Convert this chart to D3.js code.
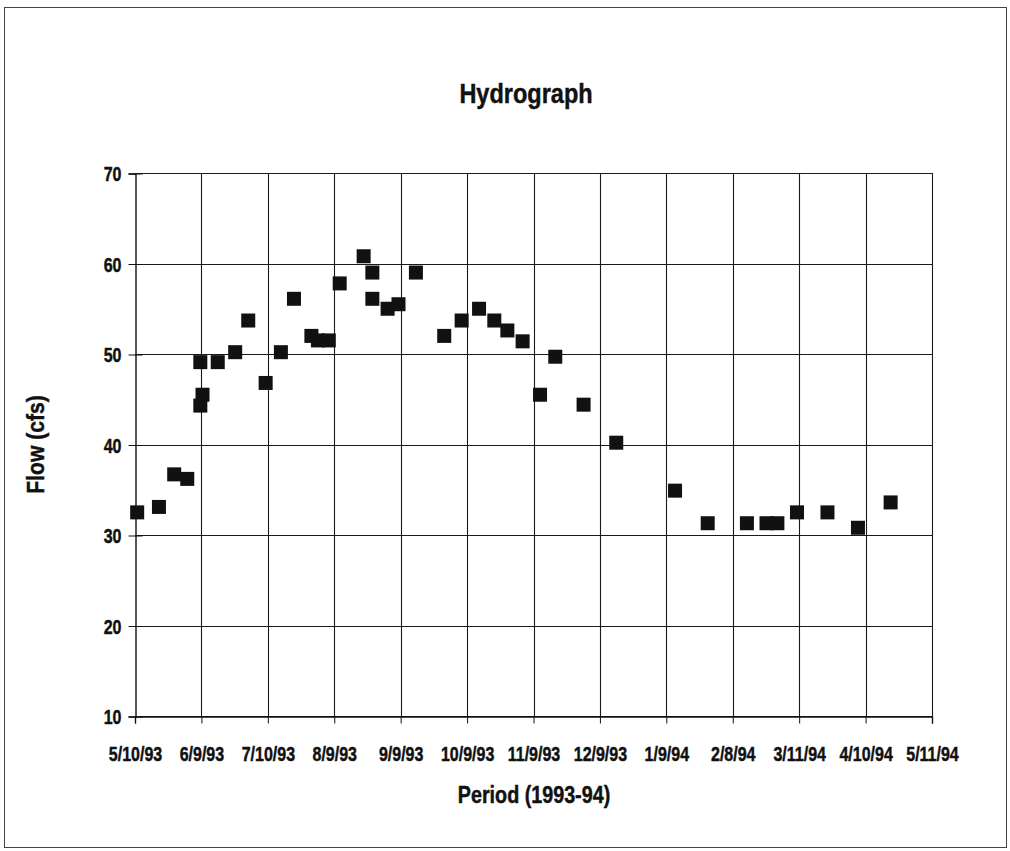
<!DOCTYPE html>
<html>
<head>
<meta charset="utf-8">
<script src="https://cdn.jsdelivr.net/npm/d3@7/dist/d3.min.js"></script>
<style>
  html, body { margin: 0; padding: 0; background: #fff; }
  svg { display: block; }
  text { font-family: "Liberation Sans", Arial, sans-serif; font-weight: bold; fill: #111; stroke: #111; stroke-width: 0.45px; }
</style>
</head>
<body>
<svg id="chart" width="1010" height="851"></svg>
<script>
// Axis tick labels (x axis ticks fall every 30.5 days from the first label)
const xTickLabels = ["5/10/93", "6/9/93", "7/10/93", "8/9/93", "9/9/93", "10/9/93",
  "11/9/93", "12/9/93", "1/9/94", "2/8/94", "3/11/94", "4/10/94", "5/11/94"];
const yTickValues = [10, 20, 30, 40, 50, 60, 70];

// Measured flow, dates of sampling
const sampleDates = [
  "1993-05-11", "1993-05-21", "1993-05-28", "1993-06-03", "1993-06-09", "1993-06-17",
  "1993-06-10", "1993-06-09", "1993-06-25", "1993-07-01", "1993-07-09", "1993-07-16",
  "1993-07-22", "1993-07-30", "1993-08-02", "1993-08-07", "1993-08-12", "1993-08-23",
  "1993-08-27", "1993-08-27", "1993-09-03", "1993-09-08", "1993-09-16", "1993-09-29",
  "1993-10-07", "1993-10-15", "1993-10-22", "1993-10-28", "1993-11-04", "1993-11-12",
  "1993-11-19", "1993-12-02", "1993-12-17", "1994-01-13", "1994-01-28", "1994-02-15",
  "1994-02-24", "1994-03-01", "1994-03-10", "1994-03-24", "1994-04-07", "1994-04-22"
];
// Flow in cfs for each sample date
const flowCfs = [
  32.5, 33.1, 36.7, 36.2, 49.1, 49.1,
  45.5, 44.3, 50.2, 53.7, 46.8, 50.2,
  56.1, 52.0, 51.5, 51.5, 57.8, 60.8,
  59.0, 56.1, 55.0, 55.5, 59.0, 52.0,
  53.7, 55.0, 53.7, 52.6, 51.4, 45.5,
  49.7, 44.4, 40.2, 34.9, 31.3, 31.3,
  31.3, 31.3, 32.5, 32.5, 30.8, 33.6
];

const svg = d3.select("#chart");
const plot = { left: 135, right: 932, top: 173, bottom: 716 };
const DAY = 864e5;
const parse = d3.utcParse("%Y-%m-%d");
const xStart = Date.UTC(1993, 4, 10);

const x = d3.scaleUtc()
  .domain([new Date(xStart), new Date(xStart + 366 * DAY)])
  .range([plot.left, plot.right]);
const y = d3.scaleLinear().domain([10, 70]).range([plot.bottom, plot.top]);

const xTickDates = xTickLabels.map((_, i) => new Date(xStart + i * 30.5 * DAY));

// condensed lettering: squeeze glyphs horizontally
const NARROW = 0.8;

// outer frame
svg.append("rect")
  .attr("x", 4.5).attr("y", 7.5).attr("width", 1002).attr("height", 840)
  .attr("fill", "none").attr("stroke", "#444").attr("stroke-width", 1);

// title
svg.append("text")
  .attr("transform", "translate(526,103) scale(0.84,1)")
  .attr("text-anchor", "middle")
  .style("font-size", "28px")
  .text("Hydrograph");

// horizontal grid
svg.append("g")
  .selectAll("line")
  .data(yTickValues)
  .join("line")
  .attr("x1", plot.left).attr("x2", plot.right)
  .attr("y1", d => Math.round(y(d)) + 0.5).attr("y2", d => Math.round(y(d)) + 0.5)
  .attr("stroke", "#1a1a1a").attr("stroke-width", 1.2);

// vertical grid
svg.append("g")
  .selectAll("line")
  .data(xTickDates.slice(1))
  .join("line")
  .attr("x1", d => Math.round(x(d)) + 0.5).attr("x2", d => Math.round(x(d)) + 0.5)
  .attr("y1", plot.top).attr("y2", plot.bottom)
  .attr("stroke", "#1a1a1a").attr("stroke-width", 1.1);

// y axis
const yAxis = d3.axisLeft(y).tickValues(yTickValues).tickSize(7).tickPadding(8)
  .tickFormat(d3.format("d"));
svg.append("g")
  .attr("transform", `translate(${plot.left + 0.5},0.5)`)
  .call(yAxis)
  .call(g => g.select(".domain").attr("stroke", "#111").attr("stroke-width", 1.4))
  .call(g => g.selectAll(".tick line").attr("stroke", "#111").attr("x2", -7).attr("x1", 7))
  .call(g => g.selectAll(".tick text")
    .style("font-size", "20px").style("font-family", null).attr("fill", "#111")
    .attr("x", -14 / NARROW).attr("dy", "0.36em")
    .attr("transform", `scale(${NARROW},1)`));

// x axis
const xAxis = d3.axisBottom(x).tickValues(xTickDates).tickSize(7).tickPadding(23)
  .tickFormat((d, i) => xTickLabels[i]);
svg.append("g")
  .attr("transform", `translate(0,${plot.bottom + 0.5})`)
  .call(xAxis)
  .call(g => g.select(".domain").attr("stroke", "#111").attr("stroke-width", 1.4))
  .call(g => g.selectAll(".tick line").attr("stroke", "#111"))
  .call(g => g.selectAll(".tick text")
    .style("font-size", "20px").style("font-family", null).attr("fill", "#111")
    .attr("transform", `scale(${NARROW},1)`));

// axis titles
svg.append("text")
  .attr("transform", `translate(44,${(plot.top + plot.bottom) / 2}) rotate(-90) scale(0.88,1)`)
  .attr("text-anchor", "middle")
  .style("font-size", "24px")
  .text("Flow (cfs)");

svg.append("text")
  .attr("transform", "translate(534,803) scale(0.84,1)")
  .attr("text-anchor", "middle")
  .style("font-size", "23.5px")
  .text("Period (1993-94)");

// sample markers
const samples = sampleDates.map((d, i) => ({ date: parse(d), flow: flowCfs[i] }));
const size = 14;
svg.append("g")
  .selectAll("rect")
  .data(samples)
  .join("rect")
  .attr("x", d => x(d.date) - size / 2)
  .attr("y", d => y(d.flow) - size / 2)
  .attr("width", size).attr("height", size)
  .attr("fill", "#111");
</script>
</body>
</html>
